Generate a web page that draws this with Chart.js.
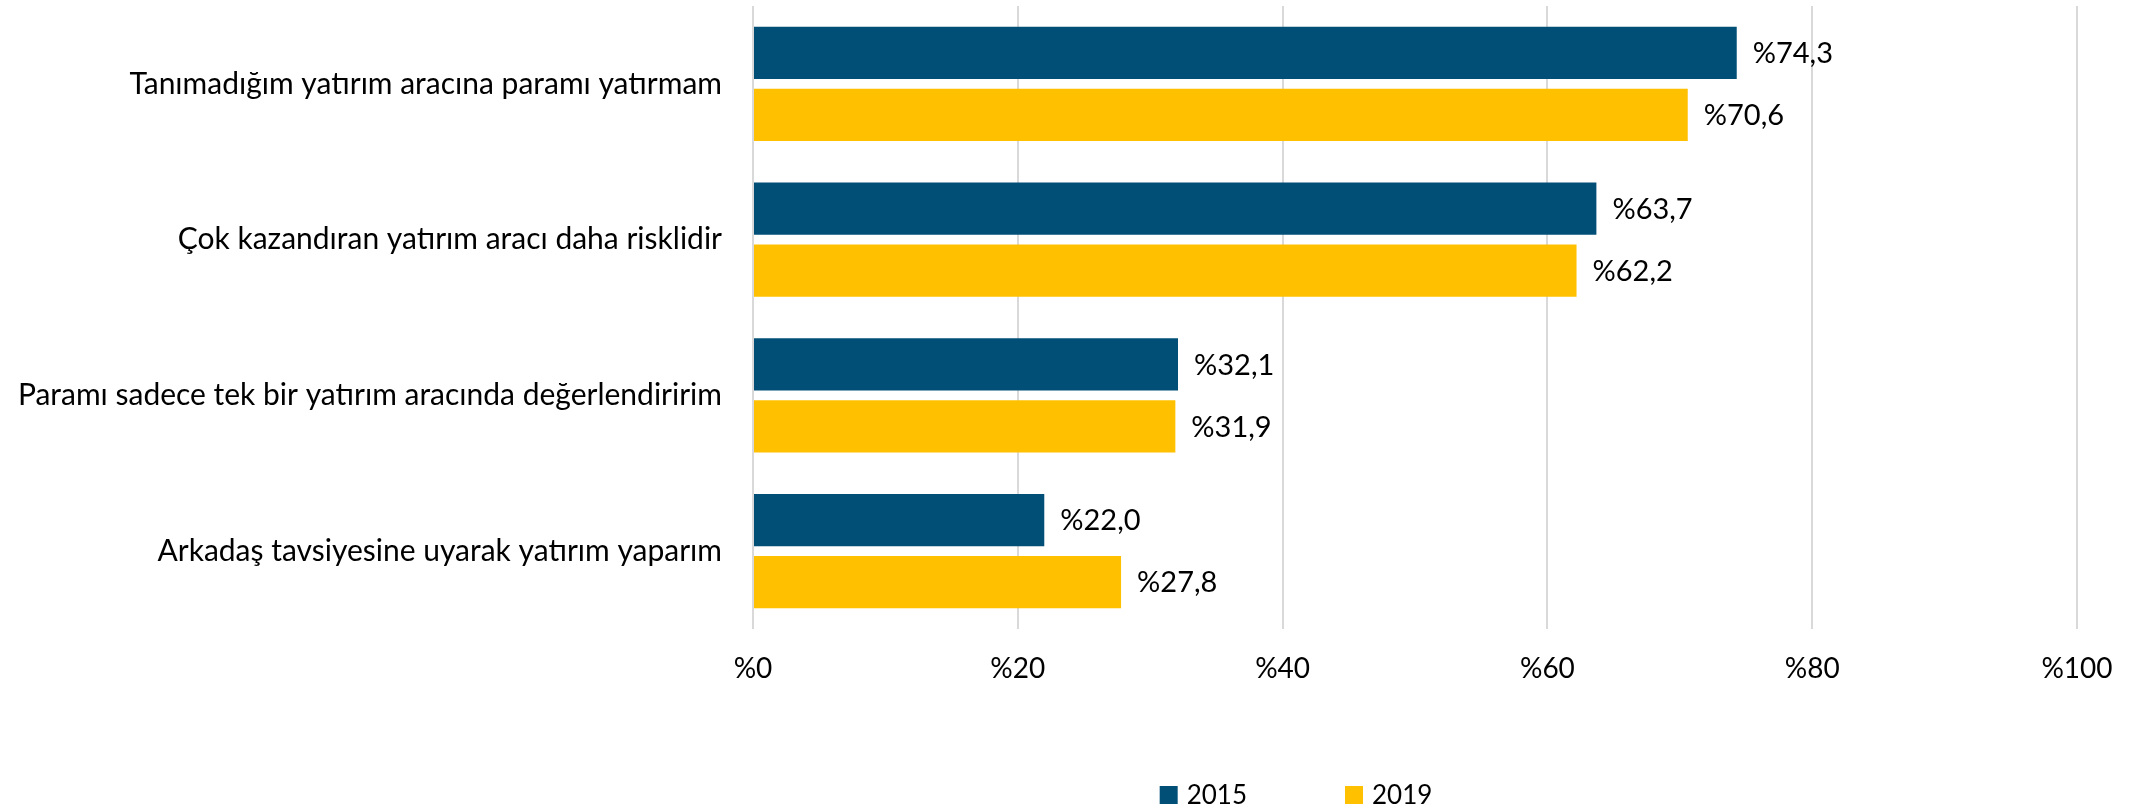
<!DOCTYPE html>
<html>
<head>
<meta charset="utf-8">
<script src="https://cdn.jsdelivr.net/npm/chart.js@4"></script>
<style>
  html, body { margin: 0; padding: 0; background: #fff; }
  #wrap { width: 2142px; height: 812px; }
</style>
</head>
<body>
<div id="wrap"><canvas id="chart"></canvas></div>
<script>
// kategoriler ve seriler
const categories = [
  'Tanımadığım yatırım aracına paramı yatırmam',
  'Çok kazandıran yatırım aracı daha risklidir',
  'Paramı sadece tek bir yatırım aracında değerlendiririm',
  'Arkadaş tavsiyesine uyarak yatırım yaparım'
];
const seriesNames = ['2015', '2019'];
const values2015 = [74.3, 63.7, 32.1, 22.0];
const values2019 = [70.6, 62.2, 31.9, 27.8];
const xTicks = [0, 20, 40, 60, 80, 100];

const FONT = 'Lato';
const fmt = (v) => '%' + Number(v).toFixed(1).replace('.', ',');

// bar sonuna yüzde etiketi
const valueLabels = {
  id: 'valueLabels',
  afterDatasetsDraw(chart) {
    const ctx = chart.ctx;
    ctx.save();
    ctx.font = '29px ' + FONT;
    ctx.fillStyle = '#000';
    ctx.textAlign = 'left';
    ctx.textBaseline = 'middle';
    chart.data.datasets.forEach((ds, i) => {
      chart.getDatasetMeta(i).data.forEach((el, j) => {
        ctx.fillText(fmt(ds.data[j]), el.x + 16, el.y + 1);
      });
    });
    ctx.restore();
  }
};

// alt lejant (Excel gibi sağa kaymış)
const bottomLegend = {
  id: 'bottomLegend',
  afterDraw(chart) {
    const ctx = chart.ctx;
    const box = 18, gap = 9, itemGap = 98, cx = 1296, cy = 795;
    ctx.save();
    ctx.font = '26px ' + FONT;
    ctx.textBaseline = 'middle';
    const items = chart.data.datasets.map(ds => ({
      label: ds.label, color: ds.backgroundColor,
      w: box + gap + ctx.measureText(ds.label).width
    }));
    const total = items.reduce((s, it) => s + it.w, 0) + itemGap * (items.length - 1);
    let x = cx - total / 2;
    items.forEach(it => {
      ctx.fillStyle = it.color;
      ctx.fillRect(x, cy - box / 2, box, box);
      ctx.fillStyle = '#000';
      ctx.fillText(it.label, x + box + gap, cy + 1);
      x += it.w + itemGap;
    });
    ctx.restore();
  }
};

new Chart(document.getElementById('chart'), {
  type: 'bar',
  data: {
    labels: categories,
    datasets: [
      { label: seriesNames[0], data: values2015, backgroundColor: '#014F77' },
      { label: seriesNames[1], data: values2019, backgroundColor: '#FFC000' }
    ]
  },
  options: {
    indexAxis: 'y',
    responsive: true,
    maintainAspectRatio: false,
    animation: false,
    categoryPercentage: 0.796,
    barPercentage: 0.84,
    layout: { padding: { top: 6, right: 65, bottom: 113, left: 0 } },
    plugins: {
      legend: { display: false },
      tooltip: { enabled: false }
    },
    scales: {
      x: {
        min: 0,
        max: 100,
        afterBuildTicks: (scale) => { scale.ticks = xTicks.map(v => ({ value: v })); },
        afterFit: (scale) => { scale.height = 70; },
        grid: { color: '#d9d9d9', lineWidth: 2, drawTicks: false },
        border: { display: false },
        ticks: {
          padding: 23,
          color: '#000',
          font: { family: FONT, size: 28 },
          callback: (v) => '%' + v
        }
      },
      y: {
        afterFit: (scale) => {
          scale.width = 753;
          scale.paddingTop = 0;
          scale.paddingBottom = 0;
        },
        grid: { display: false, drawTicks: false },
        border: { display: false },
        ticks: {
          padding: 31,
          color: '#000',
          font: { family: FONT, size: 30 }
        }
      }
    }
  },
  plugins: [valueLabels, bottomLegend]
});
</script>
</body>
</html>
